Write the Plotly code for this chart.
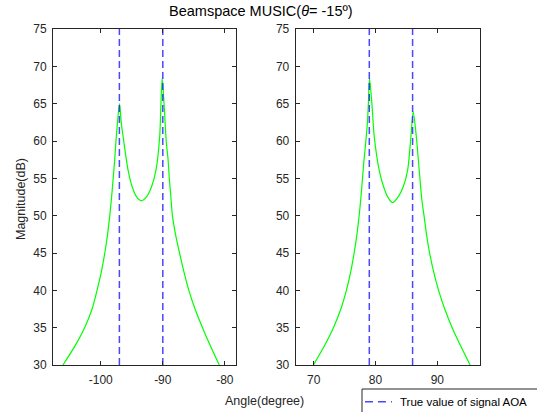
import plotly.graph_objects as go

# Left subplot spectrum (angle in degrees, magnitude in dB)
left_angle = [-106.1, -104.2, -102.6, -101.4, -100.6, -99.9, -99.35, -98.9, -98.55, -98.25,
              -98.0, -97.75, -97.55, -97.3, -96.98, -96.7, -96.4, -95.6, -94.95, -94.25,
              -93.45, -92.6, -91.8, -91.1, -90.5, -90.3, -90.1, -89.8, -89.45, -89.15,
              -88.95, -88.7, -88.45, -87.95, -87.3, -86.6, -85.8, -84.8, -83.6, -82.3,
              -80.9]
left_mag = [30.0, 32.5, 35.0, 37.5, 40.0, 42.5, 45.0, 47.5, 50.0, 52.5,
            55.0, 57.5, 60.0, 62.5, 65.0, 62.5, 60.6, 56.1, 53.9, 52.55,
            52.0, 52.55, 53.9, 56.1, 60.6, 65.0, 68.4, 65.0, 60.0, 57.5,
            55.0, 52.5, 50.0, 47.5, 45.0, 42.5, 40.0, 37.5, 35.0, 32.5,
            30.0]

# Right subplot spectrum
right_angle = [69.97, 71.7, 73.2, 74.4, 75.3, 76.0, 76.55, 77.0, 77.36, 77.65,
               77.9, 78.15, 78.45, 78.7, 78.85, 79.03, 79.42, 79.8, 80.6, 81.3,
               81.95, 82.75, 83.7, 84.5, 85.2, 85.73, 86.1, 86.6, 87.07, 87.5,
               87.85, 88.25, 88.75, 89.4, 90.2, 91.2, 92.4, 93.8, 95.3]
right_mag = [30.0, 32.5, 35.0, 37.5, 40.0, 42.5, 45.0, 47.5, 50.0, 52.5,
             55.0, 57.5, 60.0, 62.5, 65.0, 68.4, 65.0, 60.6, 56.1, 53.9,
             52.55, 51.75, 52.55, 53.9, 56.1, 60.6, 63.9, 60.6, 56.1, 52.1,
             50.0, 47.5, 45.0, 42.5, 40.0, 37.5, 35.0, 32.5, 30.0]

true_left = [-97, -90]
true_right = [79, 86]
y_limits = [30, 75]
y_ticks = [30, 35, 40, 45, 50, 55, 60, 65, 70, 75]
left_ticks = [-100, -90, -80]
right_ticks = [70, 80, 90]

title_text = "Beamspace MUSIC(<i>θ</i>= -15º)"
ylabel = "Magnitude(dB)"
xlabel = "Angle(degree)"
legend_name = "True value of signal AOA"

W, H = 537, 412
ml, mr, mt, mb = 53, 57, 29, 47
pw = W - ml - mr
ph = H - mt - mb

def px_x(p):
    return (p - ml) / pw

def px_y(p):
    return (H - mb - p) / ph

FONT = "Liberation Sans, Arial, Helvetica, sans-serif"
green = "#00ff00"
blue = "rgba(40,40,255,0.85)"
dark = "#262626"

fig = go.Figure()

fig.add_trace(go.Scatter(x=left_angle, y=left_mag, mode="lines",
                         line=dict(color=green, width=1.2, shape="spline", smoothing=0.8),
                         showlegend=False, xaxis="x", yaxis="y"))
for a in true_left:
    fig.add_trace(go.Scatter(x=[a, a], y=y_limits, mode="lines",
                             line=dict(color=blue, width=1.5, dash="7px,4px"),
                             name=legend_name, showlegend=False,
                             xaxis="x", yaxis="y"))

fig.add_trace(go.Scatter(x=right_angle, y=right_mag, mode="lines",
                         line=dict(color=green, width=1.2, shape="spline", smoothing=0.8),
                         showlegend=False, xaxis="x2", yaxis="y2"))
for a in true_right:
    fig.add_trace(go.Scatter(x=[a, a], y=y_limits, mode="lines",
                             line=dict(color=blue, width=1.5, dash="7px,4px"),
                             name=legend_name, showlegend=False,
                             xaxis="x2", yaxis="y2"))

axis_common = dict(showline=True, linecolor=dark, linewidth=1, mirror="ticks",
                   ticks="inside", ticklen=4, tickcolor=dark, showgrid=False,
                   zeroline=False, tickfont=dict(family=FONT, size=12, color=dark))

fig.update_layout(
    width=W, height=H,
    margin=dict(l=ml, r=mr, t=mt, b=mb, pad=0),
    paper_bgcolor="white", plot_bgcolor="white",
    font=dict(family=FONT, size=12, color=dark),
    showlegend=False,
    xaxis=dict(domain=[0, px_x(236)], range=[-107.7, -78.2], tickvals=left_ticks,
               ticktext=[str(v) for v in left_ticks], ticklabelstandoff=4,
               anchor="y", **axis_common),
    yaxis=dict(domain=[0, 1], range=y_limits, tickvals=y_ticks, ticklabelstandoff=3,
               anchor="x", **axis_common),
    xaxis2=dict(domain=[px_x(295.7), 1], range=[67.1, 96.9], tickvals=right_ticks,
                ticktext=[str(v) for v in right_ticks], ticklabelstandoff=4,
                anchor="y2", **axis_common),
    yaxis2=dict(domain=[0, 1], range=y_limits, tickvals=y_ticks, ticklabelstandoff=3,
                anchor="x2", **axis_common),
    annotations=[
        dict(text=title_text, x=px_x(261), y=px_y(11), xref="paper", yref="paper",
             showarrow=False, xanchor="center", yanchor="middle",
             font=dict(family=FONT, size=14.5, color="#000000")),
        dict(text=ylabel, x=px_x(21), y=px_y(199), xref="paper", yref="paper",
             showarrow=False, textangle=-90, xanchor="center", yanchor="middle",
             font=dict(family=FONT, size=12.5, color=dark)),
        dict(text=xlabel, x=px_x(264.5), y=px_y(401), xref="paper", yref="paper",
             showarrow=False, xanchor="center", yanchor="middle",
             font=dict(family=FONT, size=12.5, color=dark)),
        dict(text=legend_name, x=px_x(398), y=px_y(401.5), xref="paper", yref="paper",
             showarrow=False, xanchor="left", yanchor="middle",
             font=dict(family=FONT, size=11.5, color="#000000")),
    ],
    shapes=[
        dict(type="rect", xref="paper", yref="paper",
             x0=px_x(362), x1=px_x(560), y0=px_y(389), y1=px_y(430),
             line=dict(color=dark, width=1), fillcolor="white", layer="below"),
        dict(type="line", xref="paper", yref="paper",
             x0=px_x(365), x1=px_x(392), y0=px_y(401.7), y1=px_y(401.7),
             line=dict(color=blue, width=1.5, dash="8px,5px")),
    ],
)

fig.write_html("out.html", config={"displayModeBar": False},
               post_script="document.body.style.margin='0px';document.body.style.overflow='hidden';")
